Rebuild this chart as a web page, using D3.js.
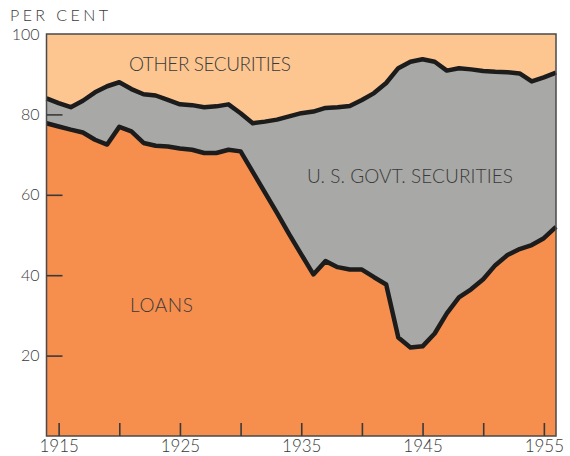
<!DOCTYPE html>
<html>
<head>
<meta charset="utf-8">
<script src="https://cdn.jsdelivr.net/npm/d3@7"></script>
<style>
  body { margin:0; background:#fff; }
  text { font-family: Lato, "DejaVu Sans", sans-serif; fill:#3a3a3a; }
</style>
</head>
<body>
<div id="containerChart"></div>
<script>
// Bank loans and investments, per cent of total

var years = [1914,1915,1916,1917,1918,1919,1920,1921,1922,1923,1924,1925,1926,1927,1928,1929,1930,
             1931,1932,1933,1934,1935,1936,1937,1938,1939,1940,1941,1942,1943,1944,1945,1946,1947,
             1948,1949,1950,1951,1952,1953,1954,1955,1956];

var loans = [77.8,77,76.2,75.5,73.7,72.5,76.9,75.8,72.9,72.2,72,71.5,71.2,70.4,70.4,71.2,70.8,
             65.7,60.6,55.5,50.2,45.2,40.2,43.5,42,41.4,41.4,39.5,37.7,24.5,22,22.3,25.5,30.5,
             34.5,36.5,39,42.5,45,46.5,47.5,49.2,52];

var govt = [6.2,5.8,5.6,7.9,11.8,14.5,11.1,10.5,12.1,12.5,11.6,11,11.1,11.4,11.6,11.3,9.5,
            12.1,17.6,23.2,29.3,35.1,40.5,38.1,39.8,40.7,42.2,45.8,50.1,67,71.1,71.4,67.6,60.4,
            57,54.7,51.8,48.1,45.5,43.7,40.7,40,38.4];

var other = [16,17.2,18.2,16.6,14.5,13,12,13.7,15,15.3,16.4,17.5,17.7,18.2,18,17.5,19.7,
             22.2,21.8,21.3,20.5,19.7,19.3,18.4,18.2,17.9,16.4,14.7,12.2,8.5,6.9,6.3,6.9,9.1,
             8.5,8.8,9.2,9.4,9.5,9.8,11.8,10.8,9.6];

var xTicks = [1915,1920,1925,1930,1935,1940,1945,1950,1955];
var xLabels = [1915,1925,1935,1945,1955];
var yTicks = [20,40,60,80,100];

var keys = ["loans","govt","other"];
var colors = {loans:"#f68e4e", govt:"#a8a8a6", other:"#fdc690"};

var width = 570, height = 456;
var margin = {top:34, right:14, bottom:20, left:46};

var rows = years.map(function(y,i){
  return {year:y, loans:loans[i], govt:govt[i], other:other[i]};
});

var series = d3.stack().keys(keys)(rows);

var x = d3.scaleLinear()
          .domain([1914,1956])
          .range([margin.left+0.5, width-margin.right]);

var y = d3.scaleLinear()
          .domain([0,100])
          .range([height-margin.bottom, margin.top]);

var svg = d3.select("#containerChart").append("svg")
            .attr("width", width)
            .attr("height", height);

var area = d3.area()
             .x(function(d){ return x(d.data.year); })
             .y0(function(d){ return y(d[0]); })
             .y1(function(d){ return y(d[1]); });

svg.append("g").selectAll("path")
   .data(series)
   .enter().append("path")
   .attr("d", area)
   .style("fill", function(d){ return colors[d.key]; });

// boundary lines between the layers
var line = d3.line()
             .x(function(d){ return x(d.data.year); })
             .y(function(d){ return y(d[1]); });

svg.append("g").selectAll("path")
   .data(series.slice(0,2))
   .enter().append("path")
   .attr("d", line)
   .style("fill","none")
   .style("stroke","#1c1c1c")
   .style("stroke-width",4.5)
   .style("stroke-linejoin","round");

// frame
svg.append("rect")
   .attr("x", x.range()[0])
   .attr("y", y(100))
   .attr("width", x.range()[1]-x.range()[0])
   .attr("height", y(0)-y(100))
   .style("fill","none")
   .style("stroke","#4a4a4a")
   .style("stroke-width",1.5);

var xAxis = svg.append("g")
   .attr("transform","translate(0,"+y(0)+")")
   .call(d3.axisBottom(x)
           .tickValues(xTicks)
           .tickSize(-13)
           .tickFormat(function(d){ return xLabels.indexOf(d) >= 0 ? d : ""; }));

xAxis.select(".domain").remove();
xAxis.selectAll("line").style("stroke","#3a3a3a").style("stroke-width",1.6);
xAxis.selectAll("text")
     .attr("y",16).attr("dy",null)
     .style("font-size","17px")
     .style("font-weight",300)
     .style("fill","#3a3a3a");

var yAxis = svg.append("g")
   .attr("transform","translate("+x.range()[0]+",0)")
   .call(d3.axisLeft(y)
           .tickValues(yTicks)
           .tickSize(-16)
           .tickPadding(7));

yAxis.select(".domain").remove();
yAxis.selectAll("line")
     .style("stroke","#3a3a3a").style("stroke-width",1.6)
     .style("opacity", function(d){ return d == 100 ? 0 : 1; });
yAxis.selectAll("text")
     .style("font-size","16px")
     .style("font-weight",300)
     .style("fill","#3a3a3a");

// labels
svg.append("text").attr("x",10).attr("y",21)
   .attr("textLength",98).attr("lengthAdjust","spacing")
   .style("font-size","16px").style("font-weight",300).text("PER CENT");

svg.append("text").attr("x",129).attr("y",70.5)
   .attr("textLength",162).attr("lengthAdjust","spacing")
   .style("font-size","19px").style("font-weight",300).text("OTHER SECURITIES");

svg.append("text").attr("x",307).attr("y",182.5)
   .attr("textLength",206).attr("lengthAdjust","spacing")
   .style("font-size","19px").style("font-weight",300).text("U. S. GOVT. SECURITIES");

svg.append("text").attr("x",130).attr("y",311.5)
   .attr("textLength",63).attr("lengthAdjust","spacing")
   .style("font-size","19px").style("font-weight",300).text("LOANS");
</script>
</body>
</html>
